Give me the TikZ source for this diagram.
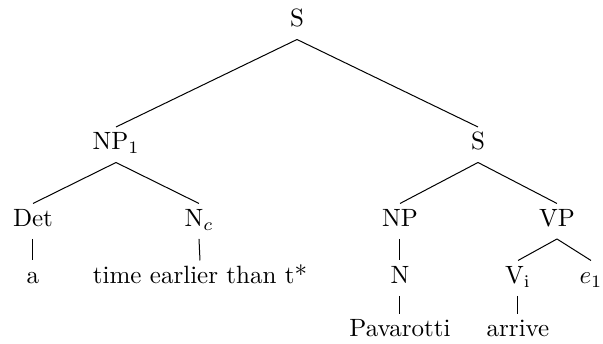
\documentclass[tikz,border=0pt]{standalone}
\begin{document}
\begin{tikzpicture}[x=0.4pt,y=-0.4pt,
  lab/.style={anchor=base, inner sep=2pt, text height=7pt, text depth=2.8pt},
  edge/.style={line width=0.4pt, black}]
\useasboundingbox (0,0) rectangle (603,344);
% row 0
\node[lab] (s0) at (297,27) {S};
% row 1
\node[lab] (np1) at (116,150) {NP$_1$};
\node[lab] (s1) at (478,150) {S};
% row 2
\node[lab] (det) at (33,226.5) {Det};
\node[lab] (nc) at (199,226.5) {N$_c$};
\node[lab] (np) at (400,226.5) {NP};
\node[lab] (vp) at (557,226.5) {VP};
% row 3
\node[lab] (a) at (33,283.5) {a};
\node[lab] (time) at (200,283.5) {time earlier than t*};
\node[lab] (n) at (400,283.5) {N};
\node[lab] (vi) at (518,283.5) {V$_{\mathrm{i}}$};
\node[lab] (e1) at (591,283.5) {$e_1$};
% row 4
\node[lab] (pav) at (400,337) {Pavarotti};
\node[lab] (arr) at (518,337) {arrive};
% edges
\draw[edge] (s0.south) -- (np1.north);
\draw[edge] (s0.south) -- (s1.north);
\draw[edge] (np1.south) -- (det.north);
\draw[edge] (np1.south) -- (nc.north);
\draw[edge] (s1.south) -- (np.north);
\draw[edge] (s1.south) -- (vp.north);
\draw[edge] (det.south) -- (a.north);
\draw[edge] (nc.south) -- (time.north);
\draw[edge] (np.south) -- (n.north);
\draw[edge] (vp.south) -- (vi.north);
\draw[edge] (vp.south) -- (e1.north);
\draw[edge] (n.south) -- (pav.north);
\draw[edge] (vi.south) -- (arr.north);
\end{tikzpicture}
\end{document}
